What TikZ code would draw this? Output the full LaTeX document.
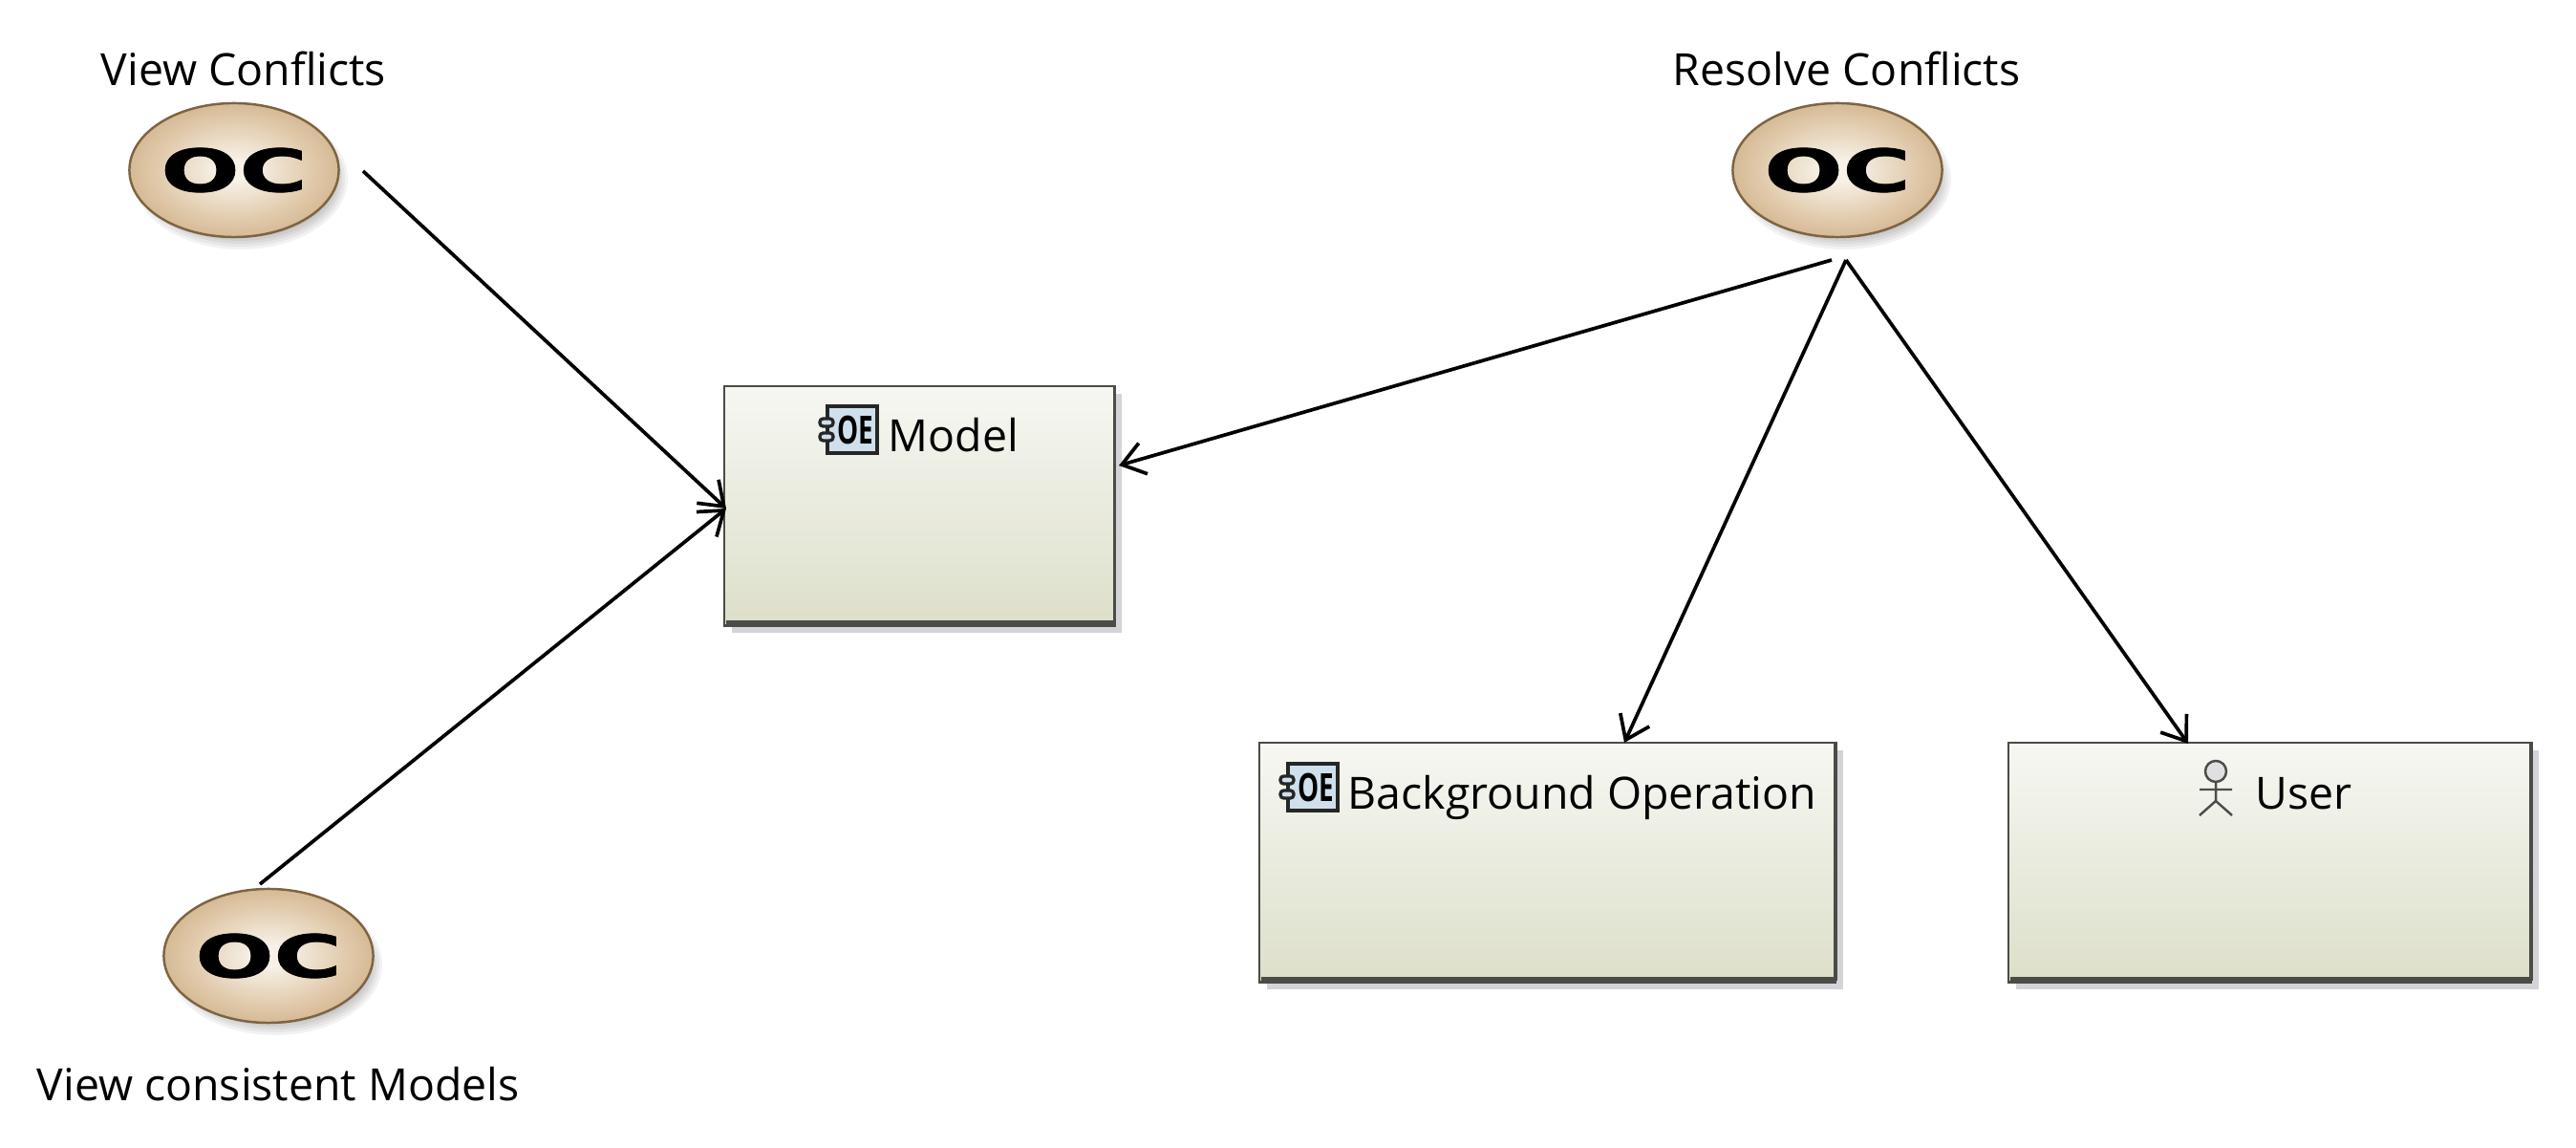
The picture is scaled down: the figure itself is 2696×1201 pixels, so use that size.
\documentclass[tikz,border=0pt]{standalone}
\usepackage{fontspec}
\setmainfont{Open Sans}
\newfontfamily\ocfont[BoldFeatures={FakeBold=1.2}]{DejaVu Sans}
\usetikzlibrary{arrows.meta,shapes.geometric,shadows}
\definecolor{boxtop}{HTML}{F6F7F2}
\definecolor{boxbot}{HTML}{DDDFCA}
\definecolor{boxedge}{HTML}{4A4C46}
\definecolor{boxshadow}{HTML}{D4D4D8}
\definecolor{ocedge}{HTML}{7D6442}
\definecolor{iconblue}{HTML}{CFDFEC}
\definecolor{balla}{HTML}{F7F1E7}
\definecolor{ballb}{HTML}{E0C9AA}
\definecolor{ballc}{HTML}{C6A376}
\pgfdeclareradialshading{ocsh}{\pgfpoint{0bp}{0bp}}{
  color(0bp)=(balla);
  color(4bp)=(balla);
  color(19bp)=(ballb);
  color(34bp)=(ballc);
  color(50bp)=(ballc)}
\tikzset{
  x=0.01cm, y=-0.01cm,
  boxnode/.style={draw=boxedge, line width=0.7pt, rectangle, inner sep=0pt,
    anchor=north west, top color=boxtop, bottom color=boxbot,
    general shadow={fill=boxshadow, shadow xshift=0.08cm, shadow yshift=-0.08cm}},
  ocnode/.style={ellipse, draw=ocedge, line width=0.7pt, inner sep=0pt,
    minimum width=2.19cm, minimum height=1.40cm, shading=ocsh,
    font=\ocfont\bfseries\fontsize{17.5pt}{17.5pt}\selectfont, text=black},
  txt/.style={anchor=base west, inner sep=0pt, text=black,
    font=\fontsize{13.2pt}{15pt}\selectfont},
  link/.style={draw=black, line width=1.05pt, -{Straight Barb[length=6.6pt,width=9.5pt,line width=1.05pt]}},
  haze/.style={fill=black, fill opacity=0.05, draw=none},
  edgeband/.style={draw=boxedge, line width=1pt},
  iconline/.style={draw=black!85, line width=0.95pt},
  actorline/.style={draw=black!70, line width=0.7pt},
}
\newcommand{\ochaze}[2]{%
  \foreach \r in {0,3,6,9,12}{
    \fill[haze] (#1+7,#2+9) ellipse [x radius=112-\r, y radius=74-\r];
  }}
\newcommand{\compicon}[3]{%
  \begin{scope}[shift={(#1,#2)}]
    \draw[iconline, fill=iconblue] (8,0) rectangle (60,49);
    \draw[iconline, fill=iconblue, rounded corners=1pt] (0,13) rectangle (14,21);
    \draw[iconline, fill=iconblue, rounded corners=1pt] (0,28) rectangle (14,36);
    \node[inner sep=0pt, text=black] (#3) at (37,24.5)
      {\scalebox{0.72}[1.05]{\fontsize{11pt}{11pt}\selectfont\bfseries OE}};
  \end{scope}}
\begin{document}
\begin{tikzpicture}
\useasboundingbox (0,0) rectangle (2696,1201);
\ochaze{245}{178}
\ochaze{1923}{178}
\ochaze{281}{1000}

\node[ocnode] (vc) at (245,178) {\scalebox{1.57}[1]{OC}};
\node[ocnode] (rc) at (1923,178) {\scalebox{1.57}[1]{OC}};
\node[ocnode] (vm) at (281,1000) {\scalebox{1.57}[1]{OC}};

\node[txt] (vclabel) at (105,90) {View Conflicts};
\node[txt] (rclabel) at (1750,90) {Resolve Conflicts};
\node[txt] (vmlabel) at (38,1152) {View consistent Models};

\node[boxnode, minimum width=4.08cm, minimum height=2.50cm] (model) at (757,403) {};
\node[boxnode, minimum width=6.02cm, minimum height=2.50cm] (bg) at (1317,776) {};
\node[boxnode, minimum width=5.46cm, minimum height=2.50cm] (user) at (2101,776) {};

\draw[edgeband] (model.north east) ++(-1,0) -- ++(0,248) -- ++(-407,0);
\draw[edgeband] (bg.north east) ++(-1,0) -- ++(0,248) -- ++(-601,0);
\draw[edgeband] (user.north east) ++(-1,0) -- ++(0,248) -- ++(-545,0);

\compicon{858}{425}{modelicon}
\compicon{1340}{799}{bgicon}
\node[txt] (modellabel) at (929,473) {Model};
\node[txt] (bglabel) at (1410,847) {Background Operation};

\begin{scope}[actorline]
  \draw[fill=white!88!black] (2319,807) circle [radius=11];
  \draw (2319,818) -- (2319,838) (2302,826) -- (2336,826)
        (2302,853) -- (2319,838) -- (2336,853);
\end{scope}
\node[txt] (userlabel) at (2360,847) {User};

\coordinate (vcout) at (380,179);
\coordinate (vmout) at (272,925);
\coordinate (modelw) at (760,532);
\coordinate (rcoutm) at (1917,272);
\coordinate (rcout) at (1932,272);
\coordinate (modele) at (1171,487);
\coordinate (bgn) at (1700,777);
\coordinate (usern) at (2290,778);

\draw[link] (vcout) -- (modelw);
\draw[link] (vmout) -- (modelw);
\draw[link] (rcoutm) -- (modele);
\draw[link] (rcout) -- (bgn);
\draw[link] (rcout) -- (usern);
\end{tikzpicture}
\end{document}
